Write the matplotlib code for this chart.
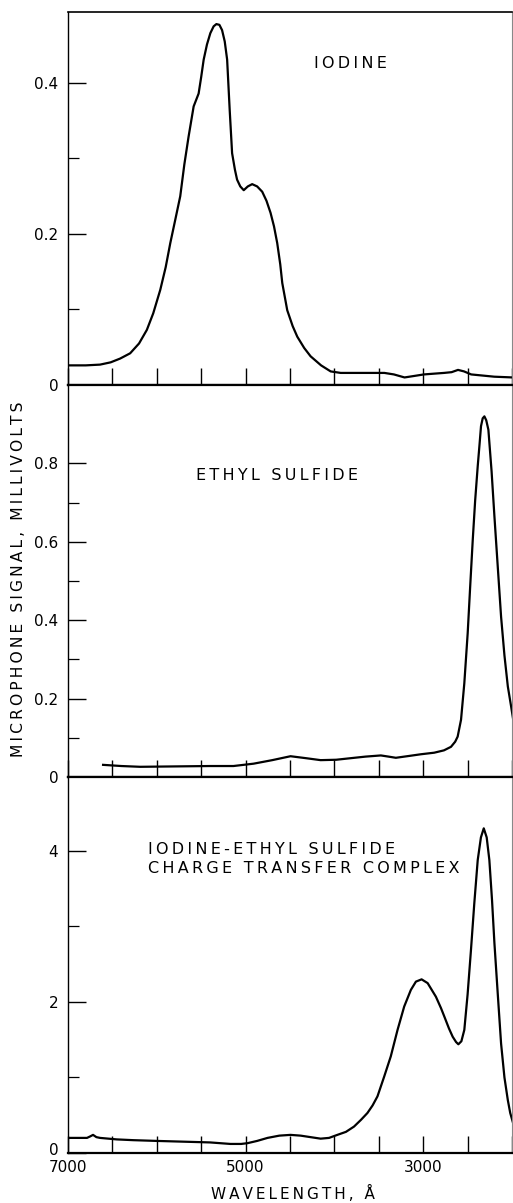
import matplotlib
matplotlib.use("Agg")
import matplotlib.pyplot as plt
from matplotlib.ticker import MultipleLocator, FixedLocator, FixedFormatter
from matplotlib.transforms import ScaledTranslation

# ---------------- data ----------------
iodine_wl = [7000, 6800, 6639, 6520, 6413, 6300, 6200, 6112, 6040, 5961, 5900, 5848,
             5790, 5736, 5690, 5642, 5585, 5529, 5500, 5472, 5435, 5397, 5360, 5329,
             5295, 5265, 5235, 5208, 5179, 5152, 5120, 5096, 5060, 5021, 4975, 4926,
             4870, 4813, 4765, 4719, 4680, 4644, 4610, 4587, 4531, 4470, 4418, 4340,
             4268, 4150, 4042, 3929, 3700, 3437, 3330, 3210, 3100, 2992, 2880, 2766,
             2680, 2608, 2540, 2460, 2200, 1990]
iodine_sig = [0.026, 0.026, 0.027, 0.030, 0.035, 0.042, 0.055, 0.073, 0.095, 0.126,
              0.156, 0.188, 0.220, 0.250, 0.292, 0.329, 0.369, 0.386, 0.408, 0.431,
              0.451, 0.466, 0.475, 0.478, 0.477, 0.470, 0.455, 0.431, 0.364, 0.307,
              0.285, 0.272, 0.263, 0.258, 0.263, 0.266, 0.263, 0.256, 0.244, 0.228,
              0.210, 0.188, 0.160, 0.135, 0.099, 0.078, 0.064, 0.049, 0.038, 0.026,
              0.018, 0.016, 0.016, 0.016, 0.014, 0.010, 0.012, 0.014, 0.015, 0.016,
              0.017, 0.020, 0.018, 0.014, 0.011, 0.010]

ethyl_wl = [6605, 6400, 6187, 5800, 5400, 5137, 4910, 4700, 4494, 4320, 4155, 3980,
            3816, 3650, 3477, 3390, 3308, 3150, 3026, 2876, 2766, 2687, 2640, 2612,
            2574, 2537, 2499, 2470, 2442, 2415, 2386, 2365, 2349, 2330, 2311, 2290,
            2266, 2230, 2198, 2160, 2123, 2085, 2047, 2010, 1980]
ethyl_sig = [0.031, 0.028, 0.026, 0.027, 0.028, 0.028, 0.034, 0.043, 0.053, 0.048,
             0.043, 0.044, 0.048, 0.052, 0.055, 0.052, 0.049, 0.054, 0.058, 0.062,
             0.068, 0.077, 0.090, 0.103, 0.146, 0.239, 0.367, 0.490, 0.605, 0.705,
             0.793, 0.850, 0.895, 0.915, 0.920, 0.910, 0.886, 0.780, 0.665, 0.535,
             0.409, 0.310, 0.231, 0.180, 0.137]

complex_wl = [7000, 6850, 6786, 6750, 6718, 6680, 6639, 6450, 6266, 6000, 5700, 5400,
              5171, 5050, 4979, 4870, 4753, 4620, 4494, 4380, 4268, 4155, 4060, 3967,
              3870, 3779, 3700, 3628, 3570, 3515, 3440, 3365, 3289, 3214, 3139, 3082,
              3018, 2950, 2857, 2800, 2763, 2710, 2668, 2630, 2604, 2570, 2537, 2500,
              2462, 2425, 2386, 2350, 2318, 2285, 2255, 2225, 2198, 2160, 2123, 2085,
              2047, 2020, 1991]
complex_sig = [0.20, 0.20, 0.20, 0.22, 0.24, 0.21, 0.20, 0.18, 0.17, 0.16, 0.15, 0.14,
               0.12, 0.12, 0.13, 0.16, 0.20, 0.23, 0.24, 0.23, 0.21, 0.19, 0.20, 0.24,
               0.28, 0.35, 0.44, 0.53, 0.63, 0.75, 1.01, 1.28, 1.63, 1.94, 2.16, 2.27,
               2.30, 2.25, 2.07, 1.92, 1.81, 1.65, 1.54, 1.47, 1.44, 1.48, 1.63, 2.10,
               2.69, 3.30, 3.88, 4.18, 4.30, 4.18, 3.88, 3.35, 2.78, 2.10, 1.45, 1.00,
               0.70, 0.53, 0.41]

panel_labels = ["IODINE", "ETHYL SULFIDE",
                "IODINE-ETHYL SULFIDE\nCHARGE TRANSFER COMPLEX"]
x_tick_values = [7000, 5000, 3000]
x_tick_labels = ["7000", "5000", "3000"]
y_ticks_top = [0, 0.2, 0.4]
y_ticklabels_top = ["0", "0.2", "0.4"]
y_ticks_mid = [0, 0.2, 0.4, 0.6, 0.8]
y_ticklabels_mid = ["0", "0.2", "0.4", "0.6", "0.8"]
y_ticks_bot = [0, 2, 4]
y_ticklabels_bot = ["0", "2", "4"]
xlabel = "WAVELENGTH, \u00c5"
ylabel = "MICROPHONE SIGNAL, MILLIVOLTS"


def spaced(s, sep="\u2009"):
    return "\n".join(sep.join(list(line)) for line in s.split("\n"))


plt.rcParams["font.family"] = ["DejaVu Sans"]
fig = plt.figure(figsize=(5.13, 12.03), dpi=100)

L, W = 68 / 513, (512 - 68) / 513
H = 1203.0
ax1 = fig.add_axes([L, 1 - 385 / H, W, (385 - 12) / H])
ax2 = fig.add_axes([L, 1 - 777 / H, W, (777 - 385) / H])
ax3 = fig.add_axes([L, 1 - 1153 / H, W, (1153 - 777) / H])

lw_curve = 1.6
ax1.plot(iodine_wl, iodine_sig, color="black", lw=lw_curve)
ax2.plot(ethyl_wl, ethyl_sig, color="black", lw=lw_curve)
ax3.plot(complex_wl, complex_sig, color="black", lw=lw_curve)

ax1.set_ylim(0, 0.494)
ax2.set_ylim(0, 1.0)
ax3.set_ylim(0, 4.98)

tick_fs = 11
for ax in (ax1, ax2, ax3):
    ax.set_xlim(7000, 2000)
    ax.xaxis.set_major_locator(MultipleLocator(500))
    ax.tick_params(axis="x", direction="in", length=12, width=1.0,
                   labelbottom=False, top=False)
    ax.tick_params(axis="y", which="major", direction="in", length=13,
                   width=1.0, pad=7, labelsize=tick_fs, right=False)
    ax.tick_params(axis="y", which="minor", direction="in", length=8,
                   width=0.9, right=False)
    ax.spines["left"].set_linewidth(1.0)
    ax.spines["bottom"].set_linewidth(1.6)
    ax.spines["top"].set_linewidth(1.6)
    ax.spines["right"].set_linewidth(0.8)
    ax.spines["right"].set_color("#888888")

ax1.spines["top"].set_linewidth(1.2)

ax1.yaxis.set_major_locator(FixedLocator(y_ticks_top))
ax1.yaxis.set_major_formatter(FixedFormatter(y_ticklabels_top))
ax1.yaxis.set_minor_locator(FixedLocator([0.1, 0.3]))
ax2.yaxis.set_major_locator(FixedLocator(y_ticks_mid))
ax2.yaxis.set_major_formatter(FixedFormatter(y_ticklabels_mid))
ax2.yaxis.set_minor_locator(FixedLocator([0.1, 0.3, 0.5, 0.7]))
ax3.yaxis.set_major_locator(FixedLocator(y_ticks_bot))
ax3.yaxis.set_major_formatter(FixedFormatter(y_ticklabels_bot))
ax3.yaxis.set_minor_locator(FixedLocator([1, 3]))

# lift the bottom "0" label a little so it clears the "7000" below it
fig.canvas.draw()
zero_lbl = ax3.yaxis.get_major_ticks()[0].label1
zero_lbl.set_transform(zero_lbl.get_transform() +
                       ScaledTranslation(0, 3 / 72, fig.dpi_scale_trans))

# x tick labels on bottom panel only (at 7000, 5000, 3000)
sec = ax3.secondary_xaxis("bottom")
sec.set_xticks(x_tick_values)
sec.set_xticklabels(x_tick_labels)
sec.tick_params(length=0, pad=5, labelsize=tick_fs)
sec.spines["bottom"].set_visible(False)

label_fs = 11.5
fig.text(350 / 513, 1 - 64 / H, spaced(panel_labels[0]), ha="center",
         va="center", fontsize=label_fs)
fig.text(277 / 513, 1 - 475 / H, spaced(panel_labels[1]), ha="center",
         va="center", fontsize=label_fs)
fig.text(148 / 513, 1 - 859 / H, spaced(panel_labels[2]), ha="left",
         va="center", fontsize=label_fs, linespacing=1.3)

fig.text(293 / 513, 1 - 1193 / H, spaced(xlabel), ha="center", va="center",
         fontsize=11)
fig.text(19 / 513, 1 - 579 / H, spaced(ylabel), ha="center", va="center",
         rotation=90, fontsize=11.2)

fig.savefig("out.png", dpi=100)
